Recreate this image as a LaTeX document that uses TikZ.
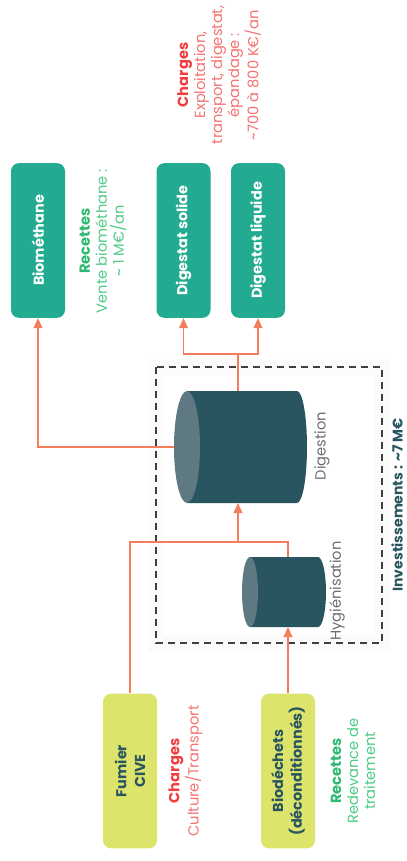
\documentclass[tikz,border=0pt]{standalone}
\usepackage{fontspec}
\setmainfont{Poppins}
\usetikzlibrary{arrows.meta}

\definecolor{boxteal}{HTML}{22AB91}
\definecolor{tankdark}{HTML}{28555F}
\definecolor{tankcap}{HTML}{5E7982}
\definecolor{feedyellow}{HTML}{DDE46B}
\definecolor{flowline}{HTML}{F47E5B}
\definecolor{chargered}{HTML}{F03E3E}
\definecolor{chargelight}{HTML}{F47272}
\definecolor{recgreen}{HTML}{2EB872}
\definecolor{reclight}{HTML}{4FCB86}
\definecolor{labelgray}{HTML}{6E6E6E}

\begin{document}
\begin{tikzpicture}[x=0.75pt,y=0.75pt,>={Triangle[width=6.5pt,length=7.5pt]},
    outbox/.style={rotate=90,rounded corners=6pt,fill=boxteal,text=white,align=center,inner sep=0pt,
      minimum width=116pt,minimum height=40.5pt,font=\bfseries\fontsize{10.8}{14}\selectfont},
    inbox/.style={outbox,fill=feedyellow,text=tankdark},
    note/.style={rotate=90,align=center,inner sep=0pt,font=\fontsize{11}{12.8}\selectfont},
    flow/.style={draw=flowline,line width=1.2pt}]
  \useasboundingbox (0,0) rectangle (407,-861);

  % frame of the plant
  \draw[line width=12pt,black!1.5] (156,-367) rectangle (382,-643);
  \draw[line width=1.1pt,black!75,dash pattern=on 5.25pt off 3.75pt] (156,-367) rectangle (382,-643);

  % tanks
  \fill[tankdark] (187,-391) -- (297,-391) arc[start angle=90,end angle=-90,x radius=10,y radius=56] -- (187,-503) -- cycle;
  \fill[tankcap] (187,-447) ellipse[x radius=13,y radius=56];
  \fill[tankdark] (250,-557) -- (318,-557) arc[start angle=90,end angle=-90,x radius=8,y radius=35] -- (250,-627) -- cycle;
  \fill[tankcap] (250,-592) ellipse[x radius=8,y radius=35];
  \coordinate (digL) at (174,-447);
  \coordinate (digT) at (238,-391);
  \coordinate (digB) at (238,-503);
  \coordinate (hygT) at (288,-557);
  \coordinate (hygB) at (288,-627);
  \coordinate (split) at (238,-354);
  \coordinate (merge) at (238,-542);
  \coordinate (feed) at (288,-542);
  \node[note,text=labelgray] (digname) at (322,-446) {Digestion};
  \node[note,text=labelgray] (hygname) at (337,-591) {Hygiénisation};
  \node[note,text=tankdark,font=\bfseries\fontsize{10.5}{12}\selectfont] (invest) at (397,-505) {Investissements : \textasciitilde7 M€};

  % products
  \node[outbox] (bio) at (38,-240.5) {Biométhane};
  \node[outbox] (solide) at (183.5,-240.5) {Digestat solide};
  \node[outbox] (liquide) at (258,-240.5) {Digestat liquide};
  \node[note,text=reclight] (recbio) at (103,-241) {\textcolor{recgreen}{\textbf{Recettes}}\\Vente biométhane :\\\textasciitilde{} 1 M€/an};
  \node[note,text=chargelight] (chargedig) at (219,-75) {\textcolor{chargered}{\textbf{Charges}}\\Exploitation,\\transport, digestat,\\épandage :\\\textasciitilde700 à 800 K€/an};

  % inputs
  \node[inbox] (fumier) at (130,-771) {Fumier\\CIVE};
  \node[inbox] (biodech) at (288,-771) {Biodéchets\\(déconditionnés)};
  \node[note,text=chargelight] (chargein) at (185.5,-771) {\textcolor{chargered}{\textbf{Charges}}\\Culture/Transport};
  \node[note,text=reclight] (recin) at (353,-771) {\textcolor{recgreen}{\textbf{Recettes}}\\Redevance de\\traitement};

  % flows
  \draw[flow,->] (digL) -| (bio.west);
  \draw[flow] (digT) -- (split);
  \draw[flow,->] (split) -| (solide.west);
  \draw[flow,->] (split) -| (liquide.west);
  \draw[flow] (fumier.east) |- (feed) -- (hygT);
  \draw[flow,->] (merge) -- (digB);
  \draw[flow,->] (biodech.east) -- (hygB);
\end{tikzpicture}
\end{document}
